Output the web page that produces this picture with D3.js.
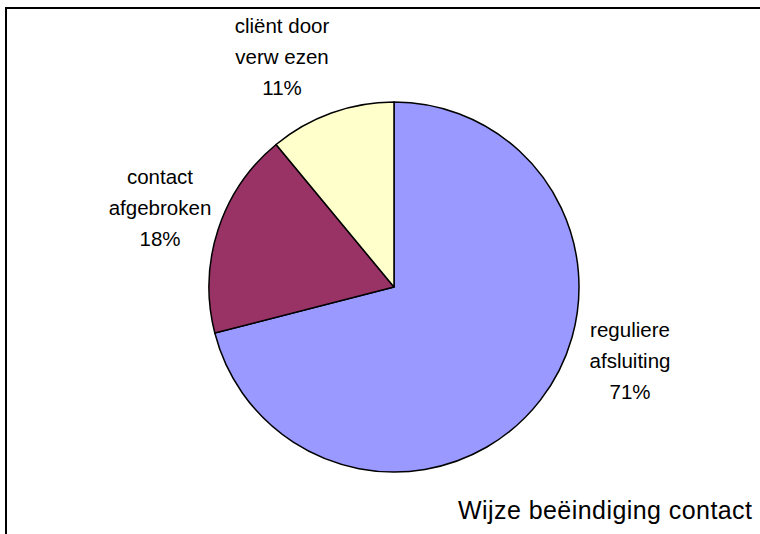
<!DOCTYPE html>
<html>
<head>
<meta charset="utf-8">
<script src="https://cdn.jsdelivr.net/npm/d3@7"></script>
<style>
  html, body { margin: 0; padding: 0; background: #fff; }
  svg { display: block; font-family: "Liberation Sans", Arial, sans-serif; }
</style>
</head>
<body>
<div id="chart"></div>
<script>
// data
const categories = ["reguliere afsluiting", "contact afgebroken", "cliënt door verwezen"];
const values = [71, 18, 11];
const labelLines = [["reguliere", "afsluiting"], ["contact", "afgebroken"], ["cliënt door", "verw ezen"]];
const colors = ["#9999FF", "#993366", "#FFFFCC"];
const title = "Wijze beëindiging contact";

// layout
const width = 760, height = 534;
const cx = 394, cy = 287, radius = 185;
// label block centres, relative to the pie centre
const labelOffsets = [[236, 74], [-234, -79], [-112, -230]];
const lineGap = 31;

const svg = d3.select("#chart").append("svg")
  .attr("width", width)
  .attr("height", height);

// chart area border (runs off the right and bottom edge)
svg.append("rect")
  .attr("x", 6).attr("y", 8)
  .attr("width", width + 10).attr("height", height + 10)
  .attr("fill", "none")
  .attr("stroke", "#000")
  .attr("stroke-width", 2);

const pie = d3.pie().sort(null).value(d => d);
const arc = d3.arc().innerRadius(0).outerRadius(radius);

const g = svg.append("g").attr("transform", `translate(${cx},${cy})`);

g.selectAll("path.slice")
  .data(pie(values))
  .join("path")
  .attr("class", "slice")
  .attr("d", arc)
  .attr("fill", (d, i) => colors[i])
  .attr("stroke", "#000")
  .attr("stroke-width", 1.5)
  .attr("stroke-linejoin", "round");

// data labels
const total = d3.sum(values);
const labels = g.selectAll("text.label")
  .data(pie(values))
  .join("text")
  .attr("class", "label")
  .attr("text-anchor", "middle")
  .attr("font-size", 20.5)
  .attr("fill", "#000");

labels.each(function (d, i) {
  const t = d3.select(this);
  const lines = labelLines[i].concat([Math.round(d.data / total * 100) + "%"]);
  const [ox, oy] = labelOffsets[i];
  lines.forEach((line, k) => {
    t.append("tspan")
      .attr("x", ox)
      .attr("y", oy + (k - 1) * lineGap)
      .attr("dy", "0.35em")
      .text(line);
  });
});

// title, bottom right
svg.append("text")
  .attr("x", 752)
  .attr("y", 510)
  .attr("dy", "0.35em")
  .attr("text-anchor", "end")
  .attr("font-size", 25)
  .attr("textLength", 294)
  .attr("lengthAdjust", "spacing")
  .attr("fill", "#000")
  .text(title);
</script>
</body>
</html>
